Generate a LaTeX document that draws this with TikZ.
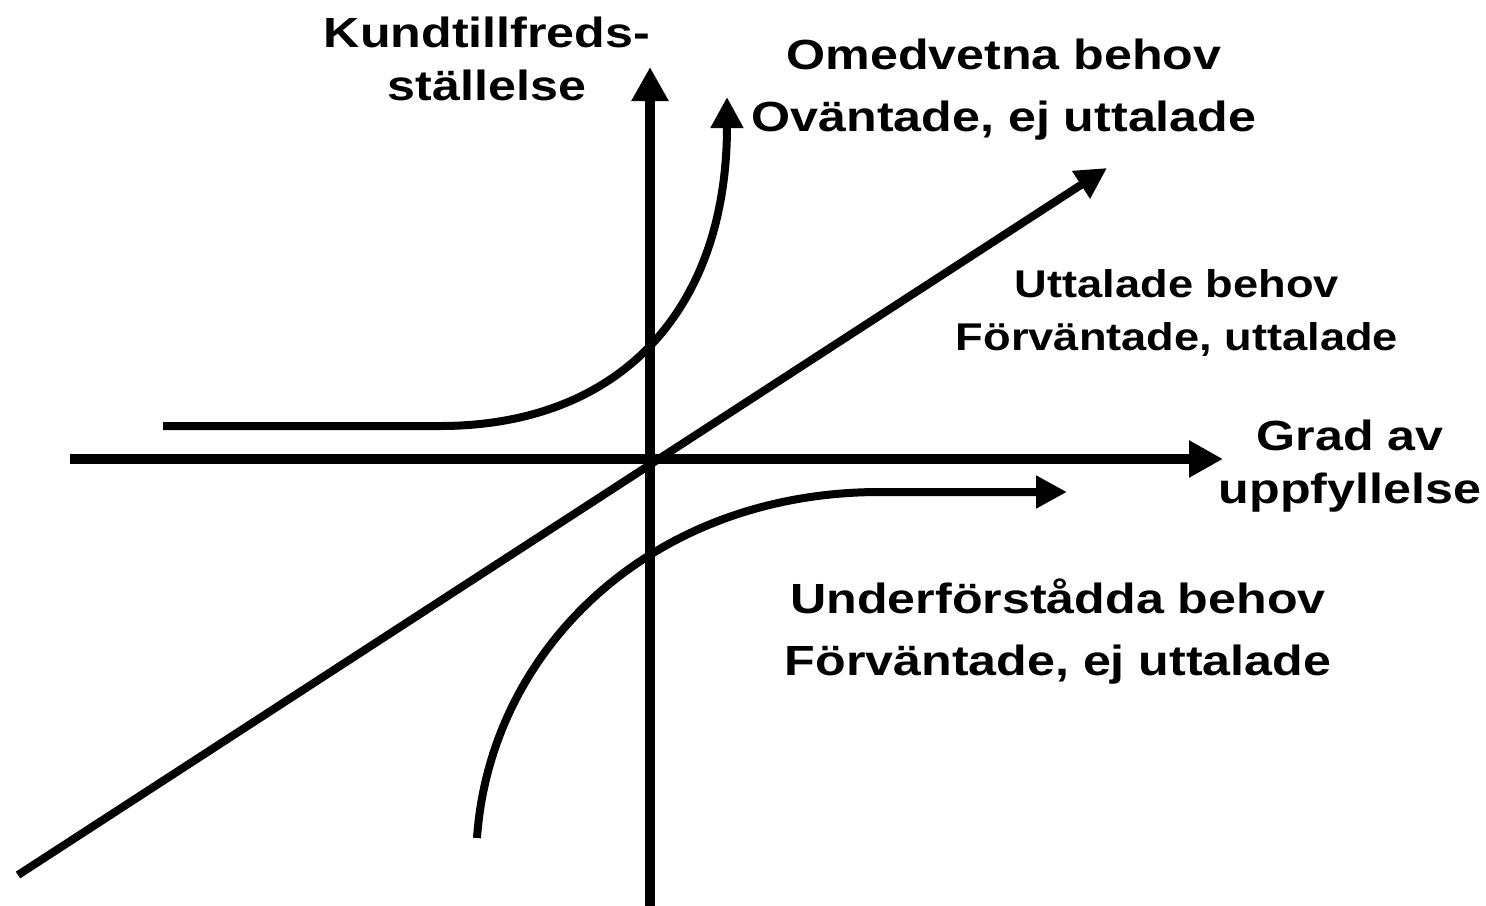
\documentclass[tikz,border=0pt]{standalone}
\usepackage{fontspec}
\setmainfont{Liberation Sans}
\usetikzlibrary{arrows.meta}

\begin{document}
\begin{tikzpicture}[
			ax/.style={-{Triangle[length=3.4mm,width=3.5mm]},line width=0.10cm},
			cv/.style={-{Triangle[length=3.1mm,width=3.1mm]},line width=0.08cm},
			lbl/.style={align=center,inner sep=0pt,anchor=base,xscale=1.19,
				font=\bfseries\fontsize{12}{14.8}\selectfont},
			lblwide/.style={lbl,font=\bfseries\fontsize{12}{17.5}\selectfont}]
			\useasboundingbox (0,0) rectangle (14.86,9.05);
			% axes
			\coordinate (ybot) at (6.50,-0.05);
			\coordinate (ytop) at (6.50,8.38);
			\coordinate (xleft) at (0.70,4.46);
			\coordinate (xright) at (12.23,4.46);
			\draw[ax] (ybot) -- (ytop);
			\draw[ax] (xleft) -- (xright);
			% uttalade behov
			\coordinate (dstart) at (0.18,0.30);
			\coordinate (dend) at (11.07,7.37);
			\draw[cv] (dstart) -- (dend);
			% omedvetna behov
			\coordinate (ustart) at (1.63,4.79);
			\coordinate (uknee) at (4.40,4.79);
			\coordinate (uend) at (7.27,8.08);
			\draw[cv] (ustart) -- (uknee) .. controls (6.20,4.79) and (7.27,5.95) .. (uend);
			% underforstadda behov
			\coordinate (lstart) at (4.77,0.67);
			\coordinate (lknee) at (8.80,4.13);
			\coordinate (lend) at (10.67,4.13);
			\draw[cv] (lstart) .. controls (4.90,2.55) and (6.50,4.13) .. (lknee) -- (lend);
			% texts (anchored at the baseline of the last line)
			\node[lbl] (kund) at (4.87,8.05) {Kundtillfreds-\\ställelse};
			\node[lblwide] (omed) at (10.04,7.74) {Omedvetna behov\\Oväntade, ej uttalade};
			\node[lbl,xscale=0.983,font=\bfseries\fontsize{11}{14.8}\selectfont] (utt) at (11.77,5.55) {Uttalade behov\\Förväntade, uttalade};
			\node[lbl] (grad) at (13.50,4.02) {Grad av\\uppfyllelse};
			\node[lblwide] (under) at (10.58,2.30) {Underförstådda behov\\Förväntade, ej uttalade};
		\end{tikzpicture}
\end{document}
